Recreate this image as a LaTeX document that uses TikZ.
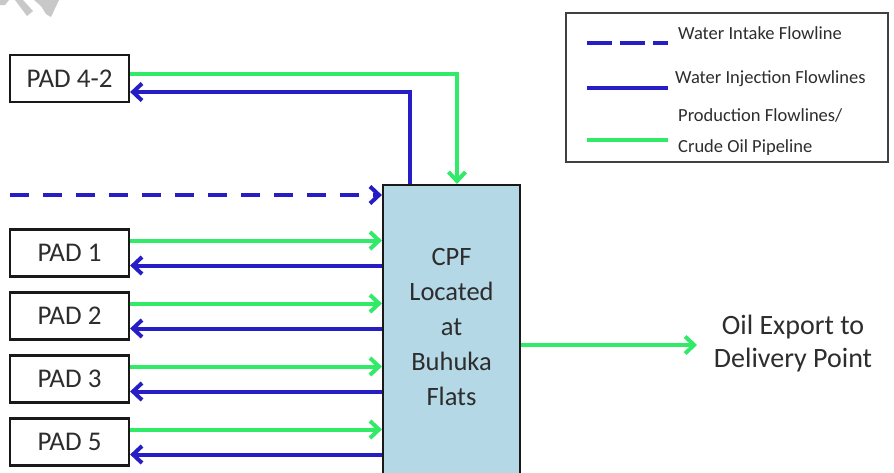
\documentclass[tikz,border=0pt]{standalone}
\usepackage{fontspec}
\setmainfont{Carlito}
\usetikzlibrary{arrows.meta}

\definecolor{flowgreen}{RGB}{48,234,104}
\definecolor{flowblue}{RGB}{38,30,196}
\definecolor{cpffill}{RGB}{180,216,230}
\definecolor{inktext}{RGB}{45,45,45}
\definecolor{markgray}{RGB}{200,200,200}

\tikzset{
  padbox/.style={draw=black!90, line width=2.2pt, fill=white, minimum width=119pt,
    minimum height=47pt, inner sep=0pt, text=inktext, font=\fontsize{27}{30}\selectfont},
  cpfbox/.style={draw=black!90, line width=2.2pt, fill=cpffill, minimum width=137pt,
    minimum height=295pt, inner sep=0pt},
  bigtext/.style={text=inktext, align=center, inner sep=0pt},
  legtext/.style={text=inktext, anchor=west, inner sep=0pt, align=left,
    font=\fontsize{18.5}{31}\selectfont},
  legframe/.style={draw=black!75, line width=1.3pt, fill=white},
  barb/.style={-{Straight Barb[length=9pt,width=17pt]}},
  prodline/.style={flowgreen, line width=4pt},
  injline/.style={flowblue, line width=4pt},
  intakeline/.style={flowblue, line width=4pt, dash pattern=on 19pt off 14pt},
}

\begin{document}
\begin{tikzpicture}[x=1pt, y=-1pt]
  \path[use as bounding box] (0,0) rectangle (894,472);
  \clip (0,0) rectangle (894,472);
  \fill[white] (0,0) rectangle (894,472);

  % fragment of a grey stamp in the top left corner
  \fill[markgray] (0,0) -- (9,0) -- (5,5) -- (0,5) -- cycle;
  \fill[markgray] (15,0) -- (23,0) -- (33,11) -- (27,16) -- cycle;
  \fill[markgray] (34,0) -- (59,0) -- (51,17) -- (46,14) -- (41,6) -- cycle;

  % pads
  \node[padbox] (pad42) at (69.5,78.5) {PAD 4-2};
  \node[padbox] (pad1) at (69.5,253) {PAD 1};
  \node[padbox] (pad2) at (69.5,316) {PAD 2};
  \node[padbox] (pad3) at (69.5,379) {PAD 3};
  \node[padbox] (pad5) at (69.5,442) {PAD 5};

  % central processing facility
  \node[cpfbox] (cpf) at (451.5,332.5) {};
  \node[bigtext, font=\fontsize{26.5}{35}\selectfont] (cpflabel) at (451.5,327)
    {CPF\\Located\\at\\Buhuka\\Flats};

  % export destination
  \node[bigtext, font=\fontsize{28}{33}\selectfont] (export) at (793,344)
    {Oil Export to\\Delivery Point};
  \coordinate (exporttip) at (697,345);

  % water intake
  \coordinate (intake) at (10,195);
  \draw[intakeline, barb] (intake) -- (intake -| cpf.west);

  % PAD 4-2 loop over the top of the CPF
  \draw[prodline, barb] ([yshift=4.5pt]pad42.east) -| ([xshift=5.5pt]cpf.north);
  \draw[injline, barb] ([xshift=-41.5pt]cpf.north) |- ([yshift=-13.5pt]pad42.east);

  % pad flowlines: production in, injection out
  \foreach \p in {pad1,pad2,pad3,pad5}{
    \draw[prodline, barb] ([yshift=12.5pt]\p.east) -- ([yshift=12.5pt]\p.east -| cpf.west);
    \draw[injline, barb] ([yshift=-12.5pt]\p.east -| cpf.west) -- ([yshift=-12.5pt]\p.east);
  }

  % crude oil export pipeline
  \draw[prodline, barb] (cpf.east |- exporttip) -- (exporttip);

  % legend
  \node[legframe, minimum width=322pt, minimum height=149pt] (legend) at (727,87.5) {};
  \coordinate (k1) at (587,43);
  \coordinate (k2) at (587,88);
  \coordinate (k3) at (587,140);
  \draw[flowblue, line width=4pt, dash pattern=on 25pt off 8pt] (k1) -- ++(81,0);
  \draw[injline] (k2) -- ++(81,0);
  \draw[prodline] (k3) -- ++(81,0);
  \node[legtext] (t1) at (678,33) {Water Intake Flowline};
  \node[legtext] (t2) at (675,79) {Water Injection Flowlines};
  \node[legtext] (t3) at (678,132.5) {Production Flowlines/\\Crude Oil Pipeline};
\end{tikzpicture}
\end{document}
